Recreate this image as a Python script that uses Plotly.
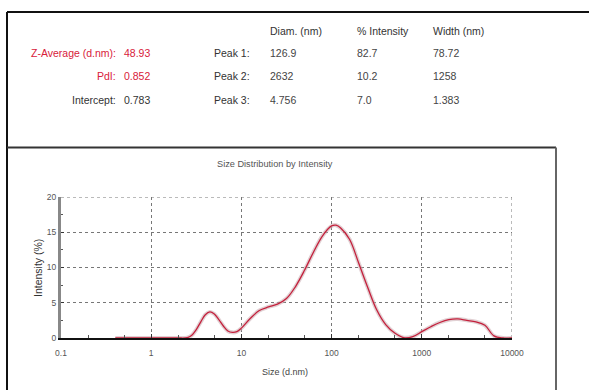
import plotly.graph_objects as go

# Size distribution by intensity (DLS result)
size_nm = [0.4, 0.5, 0.63, 0.79, 1.0, 1.26, 1.58, 2.0, 2.51, 2.82, 3.16, 3.55, 3.98, 4.47,
           5.01, 5.62, 6.31, 7.08, 7.94, 8.91, 10.0, 12.6, 15.8, 20.0, 25.1, 31.6, 39.8,
           50.1, 63.1, 79.4, 100, 112, 126, 158, 200, 251, 316, 398, 501, 631, 794, 1000,
           1259, 1585, 1995, 2512, 3162, 3981, 5012, 6310, 7943, 10000]
intensity = [0, 0, 0, 0, 0, 0, 0, 0, 0.05, 0.4, 1.2, 2.3, 3.3, 3.7,
             3.4, 2.6, 1.7, 1.0, 0.8, 0.9, 1.4, 2.8, 3.9, 4.4, 4.8, 5.6, 7.3,
             9.6, 12.2, 14.5, 15.9, 16.0, 15.6, 14.0, 10.6, 7.2, 4.0, 1.9, 0.7, 0.05, 0.2, 0.9,
             1.6, 2.2, 2.6, 2.7, 2.5, 2.3, 1.8, 0.3, 0, 0]

x_ticks = [0.1, 1, 10, 100, 1000, 10000]
x_tick_labels = ["0.1", "1", "10", "100", "1000", "10000"]
y_ticks = [0, 5, 10, 15, 20]

# Summary table
summary_labels = ["Z-Average (d.nm):", "PdI:", "Intercept:"]
summary_values = ["48.93", "0.852", "0.783"]
summary_colors = ["#d8203a", "#d8203a", "#333333"]
table_headers = ["Diam. (nm)", "% Intensity", "Width (nm)"]
peak_names = ["Peak 1:", "Peak 2:", "Peak 3:"]
peak_diam = ["126.9", "2632", "4.756"]
peak_int = ["82.7", "10.2", "7.0"]
peak_width = ["78.72", "1258", "1.383"]

W, H = 589, 390
L, R, T, B = 61, 512, 197, 338  # plot area in pixels


def px(x):
    return (x - L) / (R - L)


def py(y):
    return (B - y) / (B - T)


fig = go.Figure()
fig.add_trace(go.Scatter(x=size_nm, y=intensity, mode="lines",
                         line=dict(color="rgba(200,170,175,0.55)", width=4, shape="spline"),
                         hoverinfo="skip", showlegend=False))
fig.add_trace(go.Scatter(x=size_nm, y=intensity, mode="lines",
                         line=dict(color="#c4203c", width=1.3, shape="spline"),
                         showlegend=False))

font = "Liberation Sans, Arial, sans-serif"
TS = 10.5
ann = []
ann.append(dict(x=px(275), y=py(164), text="Size Distribution by Intensity",
                font=dict(size=9.2, color="#555")))
ann.append(dict(x=px(285), y=py(372), text="Size (d.nm)", font=dict(size=9, color="#444")))
ann.append(dict(x=px(38), y=py(268), text="Intensity (%)", textangle=-90,
                font=dict(size=10.5, color="#333")))

for i, (lab, val, col) in enumerate(zip(summary_labels, summary_values, summary_colors)):
    yy = py(53 + i * 23.5)
    ann.append(dict(x=px(118), y=yy, text=lab, xanchor="right", font=dict(size=TS, color=col)))
    ann.append(dict(x=px(122), y=yy, text=val, xanchor="left", font=dict(size=TS, color=col)))

for j, h in enumerate(table_headers):
    ann.append(dict(x=px([268, 355, 431][j]), y=py(31), text=h, xanchor="left",
                    font=dict(size=TS, color="#333")))
for i in range(3):
    yy = py(53 + i * 23.5)
    ann.append(dict(x=px(212), y=yy, text=peak_names[i], xanchor="left", font=dict(size=TS, color="#333")))
    ann.append(dict(x=px(268), y=yy, text=peak_diam[i], xanchor="left", font=dict(size=TS, color="#444")))
    ann.append(dict(x=px(355), y=yy, text=peak_int[i], xanchor="left", font=dict(size=TS, color="#444")))
    ann.append(dict(x=px(431), y=yy, text=peak_width[i], xanchor="left", font=dict(size=TS, color="#444")))

for a in ann:
    a.update(xref="paper", yref="paper", showarrow=False, yanchor="middle")
    a.setdefault("xanchor", "center")
    a["font"]["family"] = font

shapes = [
    dict(type="line", x0=px(7), x1=px(589), y0=py(12), y1=py(12), line=dict(color="#111", width=2)),
    dict(type="line", x0=px(7), x1=px(7), y0=py(12), y1=py(390), line=dict(color="#111", width=2)),
    dict(type="line", x0=px(7), x1=px(556), y0=py(147.5), y1=py(147.5), line=dict(color="#333", width=2)),
    dict(type="line", x0=px(556), x1=px(556), y0=py(147.5), y1=py(390), line=dict(color="#666", width=2)),
]
for s in shapes:
    s.update(xref="paper", yref="paper", layer="above")

# dotted grid along the top and right edges of the plot area
shapes.append(dict(type="line", xref="x", yref="y", x0=x_ticks[0], x1=x_ticks[-1],
                   y0=y_ticks[-1], y1=y_ticks[-1],
                   line=dict(color="#777", width=1, dash="dot"), layer="below"))
shapes.append(dict(type="line", xref="x", yref="y", x0=x_ticks[-1], x1=x_ticks[-1],
                   y0=y_ticks[0], y1=y_ticks[-1],
                   line=dict(color="#777", width=1, dash="dot"), layer="below"))

fig.update_layout(
    width=W, height=H,
    margin=dict(l=L, r=W - R, t=T, b=H - B, pad=0),
    paper_bgcolor="white", plot_bgcolor="white",
    font=dict(family=font, size=8.5, color="#555"),
    annotations=ann, shapes=shapes,
    xaxis=dict(type="log", range=[-1, 4], tickvals=x_ticks, ticktext=x_tick_labels,
               showgrid=True, gridcolor="#777", griddash="dot", gridwidth=1,
               showline=True, linecolor="#111", linewidth=1.5, zeroline=False,
               ticks="inside", ticklen=4, tickcolor="#333", ticklabelstandoff=6,
               minor=dict(ticks="inside", ticklen=3, tickcolor="#555", showgrid=False),
               tickfont=dict(size=8.5, color="#555")),
    yaxis=dict(range=[0, 20], tickvals=y_ticks, showgrid=True, gridcolor="#777",
               griddash="dot", gridwidth=1, showline=True, linecolor="#888", linewidth=3,
               zeroline=False, ticks="inside", ticklen=3, tickcolor="#333",
               minor=dict(dtick=2.5, ticks="inside", ticklen=2, tickcolor="#555", showgrid=False),
               tickfont=dict(size=8.5, color="#555")),
)

fig.write_html("out.html")
